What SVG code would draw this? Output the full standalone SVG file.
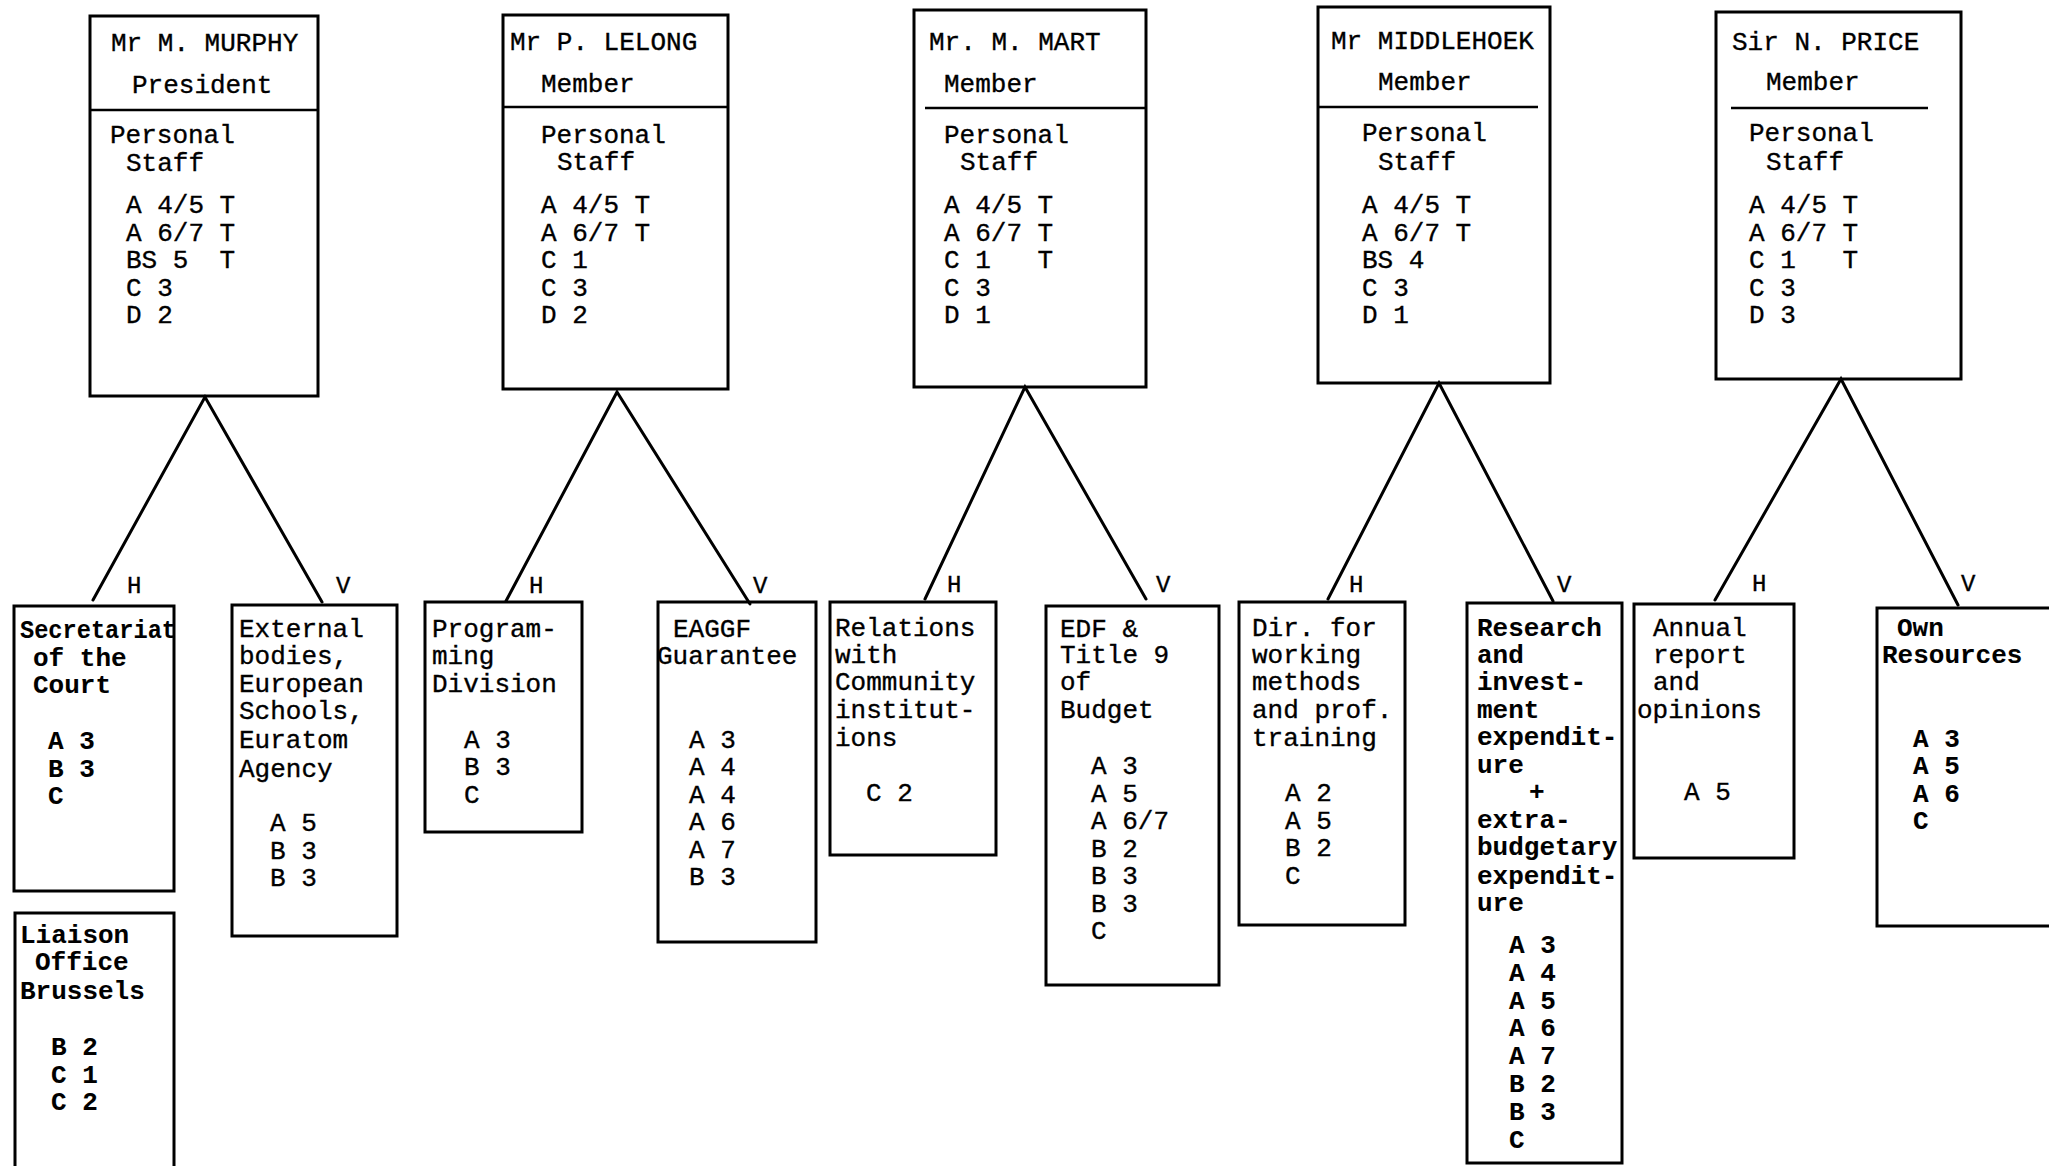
<svg xmlns="http://www.w3.org/2000/svg" width="2049" height="1166" viewBox="0 0 2049 1166">
<style>
  .bx { fill: none; stroke: #000; stroke-width: 3; stroke-linejoin: miter; }
  .dv { stroke: #000; stroke-width: 2.5; }
  .cn { stroke: #000; stroke-width: 3; fill: none; stroke-linecap: round; }
  text { font-family: "Liberation Mono", "Courier New", monospace; font-size: 26px; fill: #000; stroke: #000; stroke-width: 0.35; white-space: pre; }
  .bd { font-weight: bold; stroke-width: 0.1; }
  .lb { font-size: 24px; }
</style>
<rect width="2049" height="1166" fill="#fff"/>

<!-- connectors: each Member splits into H and V sectors -->
<g id="connectors">
  <polyline class="cn" points="93,600 205,397 322,602"/>
  <polyline class="cn" points="506,601 617,392 750,604"/>
  <polyline class="cn" points="925,599 1025,387 1146,599"/>
  <polyline class="cn" points="1328,599 1439,383 1553,601"/>
  <polyline class="cn" points="1715,600 1841,379 1958,605"/>
  <text class="lb" x="127" y="593">H</text>
  <text class="lb" x="336" y="593">V</text>
  <text class="lb" x="529" y="593">H</text>
  <text class="lb" x="753" y="593">V</text>
  <text class="lb" x="947" y="592">H</text>
  <text class="lb" x="1156" y="592">V</text>
  <text class="lb" x="1349" y="592">H</text>
  <text class="lb" x="1557" y="592">V</text>
  <text class="lb" x="1752" y="591">H</text>
  <text class="lb" x="1961" y="591">V</text>
</g>

<!-- Members and their personal staff -->
<g id="murphy">
  <rect class="bx" x="90" y="16" width="228" height="380"/>
  <line class="dv" x1="90" y1="110" x2="318" y2="110"/>
  <text x="111" y="51">Mr M. MURPHY</text>
  <text x="132" y="93">President</text>
  <text x="110" y="143">Personal</text>
  <text x="126" y="171">Staff</text>
  <text x="126" y="213">A 4/5 T</text>
  <text x="126" y="240.5">A 6/7 T</text>
  <text x="126" y="268" xml:space="preserve">BS 5  T</text>
  <text x="126" y="295.5">C 3</text>
  <text x="126" y="323">D 2</text>
</g>

<g id="lelong">
  <rect class="bx" x="503" y="15" width="225" height="374"/>
  <line class="dv" x1="503" y1="107" x2="728" y2="107"/>
  <text x="510" y="50">Mr P. LELONG</text>
  <text x="541" y="92">Member</text>
  <text x="541" y="143">Personal</text>
  <text x="557" y="170">Staff</text>
  <text x="541" y="213">A 4/5 T</text>
  <text x="541" y="240.5">A 6/7 T</text>
  <text x="541" y="268">C 1</text>
  <text x="541" y="295.5">C 3</text>
  <text x="541" y="323">D 2</text>
</g>

<g id="mart">
  <rect class="bx" x="914" y="10" width="232" height="377"/>
  <line class="dv" x1="925" y1="108" x2="1146" y2="108"/>
  <text x="929" y="50">Mr. M. MART</text>
  <text x="944" y="92">Member</text>
  <text x="944" y="143">Personal</text>
  <text x="960" y="170">Staff</text>
  <text x="944" y="213">A 4/5 T</text>
  <text x="944" y="240.5">A 6/7 T</text>
  <text x="944" y="268" xml:space="preserve">C 1   T</text>
  <text x="944" y="295.5">C 3</text>
  <text x="944" y="323">D 1</text>
</g>

<g id="middlehoek">
  <rect class="bx" x="1318" y="7" width="232" height="376"/>
  <line class="dv" x1="1318" y1="107" x2="1538" y2="107"/>
  <text x="1331" y="49">Mr MIDDLEHOEK</text>
  <text x="1378" y="90">Member</text>
  <text x="1362" y="141">Personal</text>
  <text x="1378" y="170">Staff</text>
  <text x="1362" y="213">A 4/5 T</text>
  <text x="1362" y="240.5">A 6/7 T</text>
  <text x="1362" y="268">BS 4</text>
  <text x="1362" y="295.5">C 3</text>
  <text x="1362" y="323">D 1</text>
</g>

<g id="price">
  <rect class="bx" x="1716" y="12" width="245" height="367"/>
  <line class="dv" x1="1731" y1="108" x2="1928" y2="108"/>
  <text x="1732" y="50">Sir N. PRICE</text>
  <text x="1766" y="90">Member</text>
  <text x="1749" y="141">Personal</text>
  <text x="1766" y="170">Staff</text>
  <text x="1749" y="213">A 4/5 T</text>
  <text x="1749" y="240.5">A 6/7 T</text>
  <text x="1749" y="268" xml:space="preserve">C 1   T</text>
  <text x="1749" y="295.5">C 3</text>
  <text x="1749" y="323">D 3</text>
</g>

<!-- Sectors -->
<g id="secretariat">
  <rect class="bx" x="14" y="606" width="160" height="285"/>
  <text class="bd" x="20" y="638" textLength="156" lengthAdjust="spacingAndGlyphs">Secretariat</text>
  <text class="bd" x="33" y="665.5">of the</text>
  <text class="bd" x="33" y="693">Court</text>
  <text class="bd" x="48" y="749">A 3</text>
  <text class="bd" x="48" y="776.5">B 3</text>
  <text class="bd" x="48" y="804">C</text>
</g>

<g id="liaison">
  <rect class="bx" x="15" y="913" width="159" height="270"/>
  <text class="bd" x="20" y="942.5">Liaison</text>
  <text class="bd" x="35" y="970">Office</text>
  <text class="bd" x="20" y="998.5">Brussels</text>
  <text class="bd" x="51" y="1055">B 2</text>
  <text class="bd" x="51" y="1082.5">C 1</text>
  <text class="bd" x="51" y="1110">C 2</text>
</g>

<g id="external">
  <rect class="bx" x="232" y="605" width="165" height="331"/>
  <text x="239" y="636.5">External</text>
  <text x="239" y="664">bodies,</text>
  <text x="239" y="691.5">European</text>
  <text x="239" y="719">Schools,</text>
  <text x="239" y="747.5">Euratom</text>
  <text x="239" y="776.5">Agency</text>
  <text x="270" y="831">A 5</text>
  <text x="270" y="858.5">B 3</text>
  <text x="270" y="886">B 3</text>
</g>

<g id="programming">
  <rect class="bx" x="425" y="602" width="157" height="230"/>
  <text x="432" y="636.5">Program-</text>
  <text x="432" y="664">ming</text>
  <text x="432" y="691.5">Division</text>
  <text x="464" y="747.5">A 3</text>
  <text x="464" y="775">B 3</text>
  <text x="464" y="802.5">C</text>
</g>

<g id="eaggf">
  <rect class="bx" x="658" y="602" width="158" height="340"/>
  <text x="673" y="636.5">EAGGF</text>
  <text x="657" y="664">Guarantee</text>
  <text x="689" y="747.5">A 3</text>
  <text x="689" y="775">A 4</text>
  <text x="689" y="802.5">A 4</text>
  <text x="689" y="830">A 6</text>
  <text x="689" y="857.5">A 7</text>
  <text x="689" y="885">B 3</text>
</g>

<g id="relations">
  <rect class="bx" x="830" y="602" width="166" height="253"/>
  <text x="835" y="635.5">Relations</text>
  <text x="835" y="663">with</text>
  <text x="835" y="690">Community</text>
  <text x="835" y="717.5">institut-</text>
  <text x="835" y="746">ions</text>
  <text x="866" y="801">C 2</text>
</g>

<g id="edf">
  <rect class="bx" x="1046" y="606" width="173" height="379"/>
  <text x="1060" y="636.5">EDF &amp;</text>
  <text x="1060" y="663">Title 9</text>
  <text x="1060" y="690">of</text>
  <text x="1060" y="717.5">Budget</text>
  <text x="1091" y="774">A 3</text>
  <text x="1091" y="801.5">A 5</text>
  <text x="1091" y="829">A 6/7</text>
  <text x="1091" y="856.5">B 2</text>
  <text x="1091" y="884">B 3</text>
  <text x="1091" y="911.5">B 3</text>
  <text x="1091" y="939">C</text>
</g>

<g id="working-methods">
  <rect class="bx" x="1239" y="602" width="166" height="323"/>
  <text x="1252" y="635.5">Dir. for</text>
  <text x="1252" y="663">working</text>
  <text x="1252" y="690">methods</text>
  <text x="1252" y="717.5">and prof.</text>
  <text x="1252" y="746">training</text>
  <text x="1285" y="801">A 2</text>
  <text x="1285" y="828.5">A 5</text>
  <text x="1285" y="856">B 2</text>
  <text x="1285" y="883.5">C</text>
</g>

<g id="research">
  <rect class="bx" x="1467" y="603" width="155" height="560"/>
  <text class="bd" x="1477" y="635.5">Research</text>
  <text class="bd" x="1477" y="663">and</text>
  <text class="bd" x="1477" y="690">invest-</text>
  <text class="bd" x="1477" y="717.5">ment</text>
  <text class="bd" x="1477" y="745">expendit-</text>
  <text class="bd" x="1477" y="772.5">ure</text>
  <text class="bd" x="1529" y="800">+</text>
  <text class="bd" x="1477" y="827.5">extra-</text>
  <text class="bd" x="1477" y="855">budgetary</text>
  <text class="bd" x="1477" y="883.5">expendit-</text>
  <text class="bd" x="1477" y="911">ure</text>
  <text class="bd" x="1509" y="953">A 3</text>
  <text class="bd" x="1509" y="980.8">A 4</text>
  <text class="bd" x="1509" y="1008.6">A 5</text>
  <text class="bd" x="1509" y="1036.4">A 6</text>
  <text class="bd" x="1509" y="1064.2">A 7</text>
  <text class="bd" x="1509" y="1092">B 2</text>
  <text class="bd" x="1509" y="1119.8">B 3</text>
  <text class="bd" x="1509" y="1147.6">C</text>
</g>

<g id="annual-report">
  <rect class="bx" x="1634" y="604" width="160" height="254"/>
  <text x="1653" y="635.5">Annual</text>
  <text x="1653" y="663">report</text>
  <text x="1653" y="690">and</text>
  <text x="1637" y="717.5">opinions</text>
  <text x="1684" y="800">A 5</text>
</g>

<g id="own-resources">
  <rect class="bx" x="1877" y="608" width="190" height="318"/>
  <text class="bd" x="1897" y="635.5">Own</text>
  <text class="bd" x="1882" y="663">Resources</text>
  <text class="bd" x="1913" y="746.5">A 3</text>
  <text class="bd" x="1913" y="774">A 5</text>
  <text class="bd" x="1913" y="801.5">A 6</text>
  <text class="bd" x="1913" y="829">C</text>
</g>
</svg>
